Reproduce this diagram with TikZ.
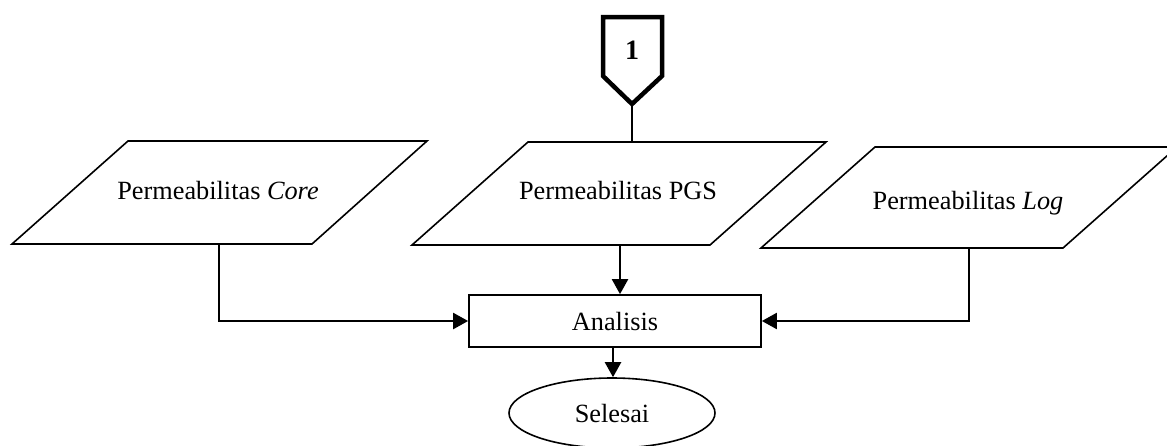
\documentclass[tikz,border=0pt]{standalone}
\usepackage{fontspec}
\setmainfont{Liberation Serif}
\usetikzlibrary{arrows.meta,shapes.geometric}
\begin{document}
\begin{tikzpicture}[x=1pt,y=-1pt,
  shapeline/.style={draw=black,line width=1.6pt},
  lbl/.style={font=\fontsize{26.3}{30}\selectfont,inner sep=0pt},
  conn/.style={draw=black,line width=2.2pt,-{Triangle[length=15pt,width=16pt]}},
  plainconn/.style={draw=black,line width=2.2pt}]
\useasboundingbox[fill=white] (0,0) rectangle (1167,445);

% off-page connector
\draw[line width=4.5pt,line join=miter] (603,17) -- (662,17) -- (662,76) -- (632,104) -- (603,76) -- cycle;
\node[font=\fontsize{28}{32}\selectfont\bfseries,inner sep=0pt] (one) at (632,50) {1};
\coordinate (offtip) at (632,104);

% parallelograms
\draw[shapeline] (12,244) -- (312,244) -- (427,141) -- (128,141) -- cycle;
\node[lbl] (core) at (218,190) {Permeabilitas \textit{Core}};
\draw[shapeline] (412,245) -- (710,245) -- (826,142) -- (528,142) -- cycle;
\node[lbl] (pgs) at (618,190) {Permeabilitas PGS};
\draw[shapeline] (761,248) -- (1063,248) -- (1177,147) -- (875,147) -- cycle;
\node[lbl] (log) at (968,203) {Permeabilitas \textit{Log}};

\coordinate (coreb) at (219,244);
\coordinate (pgst) at (632,142);
\coordinate (pgsb) at (620,245);
\coordinate (logb) at (969,248);

% process box
\node[draw=black,line width=1.7pt,minimum width=292pt,minimum height=52pt,inner sep=0pt,lbl] (ana) at (615,321) {Analisis};

% terminator
\node[draw=black,line width=1.6pt,ellipse,minimum width=206pt,minimum height=70pt,inner sep=0pt,lbl] (sel) at (612,413) {Selesai};

% connectors
\draw[line width=2.8pt] (offtip) -- (pgst);
\draw[conn] (pgsb) -- (pgsb |- ana.north);
\draw[plainconn,-{Triangle[length=15pt,width=16pt]}] (coreb) |- (ana.west);
\draw[plainconn,-{Triangle[length=15pt,width=16pt]}] (logb) |- (ana.east);
\draw[conn] ([xshift=-2pt]ana.south) -- ([xshift=-2pt]ana.south |- sel.north);
\end{tikzpicture}
\end{document}
